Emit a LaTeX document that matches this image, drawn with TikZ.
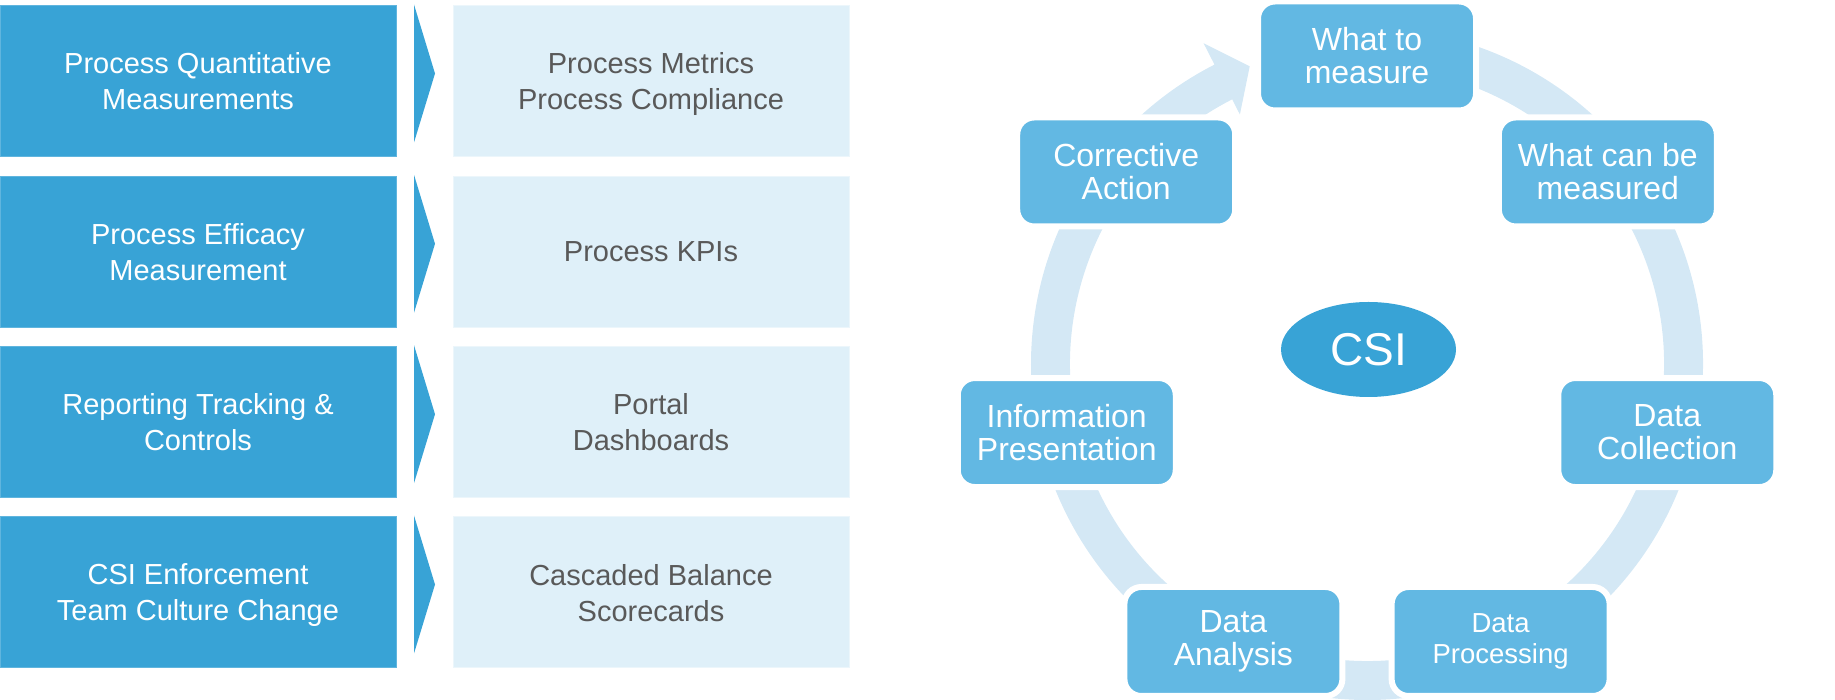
\documentclass[tikz,border=0pt]{standalone}
\usepackage{fontspec}
\setmainfont{Liberation Sans}
\usetikzlibrary{shapes.geometric}

\definecolor{csidark}{HTML}{38A3D6}
\definecolor{csimid}{HTML}{62B8E3}
\definecolor{csipale}{HTML}{DFF0F9}
\definecolor{csiring}{HTML}{D4E8F5}
\definecolor{csigray}{HTML}{595959}

\tikzset{
  measbox/.style={fill=csidark, draw=csidark!80!white, line width=1pt, text=white,
    minimum width=396pt, minimum height=151pt, inner sep=0pt, align=center,
    text depth=0pt, font=\fontsize{29}{36}\selectfont},
  metricbox/.style={fill=csipale, draw=csipale!60!white, line width=1pt, text=csigray,
    minimum width=396pt, minimum height=151pt, inner sep=0pt, align=center,
    text depth=0pt, font=\fontsize{29}{36}\selectfont},
  stagebox/.style={fill=csimid, draw=white, line width=6pt, rounded corners=17pt,
    minimum width=218pt, minimum height=109pt, inner sep=0pt, text=white,
    align=center, font=\fontsize{32}{33}\selectfont},
  hubnode/.style={ellipse, fill=csidark, text=white, minimum width=175pt,
    minimum height=95pt, inner sep=0pt, font=\fontsize{46}{46}\selectfont}
}

\begin{document}
\begin{tikzpicture}[x=1pt,y=1pt]
\useasboundingbox (0,0) rectangle (1835,700);

% left: measurement levels and what they give
\foreach \i/\y/\what/\gives in {
    1/618.5/{Process Quantitative\\Measurements}/{Process Metrics\\Process Compliance},
    2/448.2/{Process Efficacy\\Measurement}/{Process KPIs},
    3/277.8/{Reporting Tracking \&\\Controls}/{Portal\\Dashboards},
    4/107.5/{CSI Enforcement\\Team Culture Change}/{Cascaded Balance\\Scorecards}}{
  \node[measbox] (level\i) at (198,\y) {\what};
  \node[metricbox] (output\i) at (651,\y) {\gives};
  \fill[csidark] (414,\y+77) -- (435,\y+8) -- (414,\y-61) -- cycle;
}

% right: the CSI cycle
\begin{scope}[shift={(1367,336)}]
  \fill[csiring] (85:336) arc[start angle=85, end angle=-243, radius=336]
    -- (-243:360) -- (-248.5:320) -- (-243:280) -- (-243:297)
    arc[start angle=-243, end angle=85, radius=297] -- cycle;
  \node[stagebox] (whatto)   at (90:308)     {What to\\measure};
  \node[stagebox] (whatcan)  at (38.57:308)  {What can be\\measured};
  \node[stagebox] (collect)  at (-12.86:308) {Data\\Collection};
  \node[stagebox, font=\fontsize{27.5}{31}\selectfont] (process) at (-64.29:308) {Data\\Processing};
  \node[stagebox] (analyse)  at (-115.71:308) {Data\\Analysis};
  \node[stagebox] (present)  at (-167.14:308) {Information\\Presentation};
  \node[stagebox] (correct)  at (-218.57:308) {Corrective\\Action};
\end{scope}
\node[hubnode] (csi) at (1368.5,350.5) {CSI};
\end{tikzpicture}
\end{document}
